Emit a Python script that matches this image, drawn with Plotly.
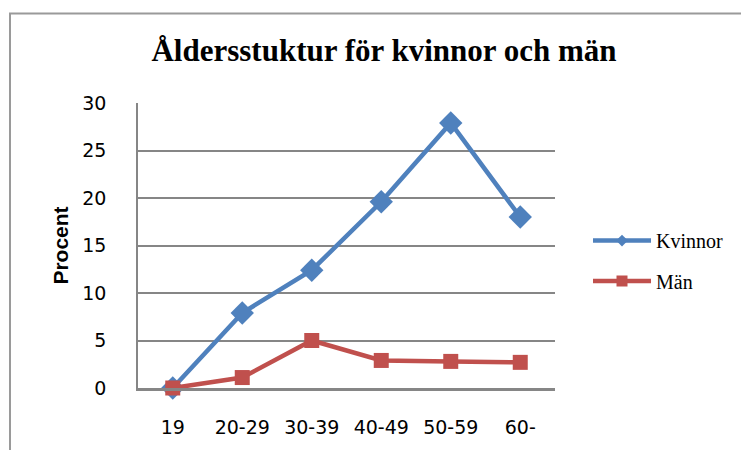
import plotly.graph_objects as go

categories = ["19", "20-29", "30-39", "40-49", "50-59", "60-"]
kvinnor = [0, 7.9, 12.4, 19.6, 27.9, 18.0]
man = [0, 1.1, 5.0, 2.9, 2.8, 2.7]

BLUE, RED = "#4F81BD", "#C0504D"

fig = go.Figure()
fig.add_trace(go.Scatter(
    x=categories, y=kvinnor, name="Kvinnor", mode="lines+markers",
    line=dict(color=BLUE, width=4.5),
    marker=dict(symbol="diamond", size=18, color=BLUE),
    showlegend=False, cliponaxis=False))
fig.add_trace(go.Scatter(
    x=categories, y=man, name="Män", mode="lines+markers",
    line=dict(color=RED, width=4.5),
    marker=dict(symbol="square", size=15, color=RED),
    showlegend=False, cliponaxis=False))
# legend entries (smaller legend symbols, as in the original)
fig.add_trace(go.Scatter(
    x=[None], y=[None], name="Kvinnor", mode="lines+markers",
    line=dict(color=BLUE, width=4.5),
    marker=dict(symbol="diamond", size=9, color=BLUE),
    legend="legend", showlegend=True))
fig.add_trace(go.Scatter(
    x=[None], y=[None], name="Män", mode="lines+markers",
    line=dict(color=RED, width=4.5),
    marker=dict(symbol="square", size=11, color=RED),
    legend="legend2", showlegend=True))

# page body has an 8px margin; work in screen pixels and shift
OFF = 8
W, H = 749 - OFF, 450 - OFF
L, T = 138 - OFF, 103 - OFF
pw, ph = 417, 290
R, B = W - L - pw, H - T - ph

def px_x(x):
    return (x - OFF - L) / pw

def px_y(y):
    return (T + ph - (y - OFF)) / ph

legend_font = dict(family="Liberation Serif", size=20, color="#000000")

fig.update_layout(
    width=W, height=H,
    margin=dict(l=L, r=R, t=T, b=B),
    paper_bgcolor="white", plot_bgcolor="white",
    title=dict(text="<b>Åldersstuktur för kvinnor och män</b>",
               font=dict(family="Liberation Serif", size=31, color="#000000"),
               x=(384 - OFF) / W, xanchor="center", y=1 - (50 - OFF) / H, yanchor="middle"),
    xaxis=dict(type="category", showgrid=False, showline=True,
               linecolor="#868686", linewidth=3,
               ticks="outside", ticklen=20, tickcolor="rgba(0,0,0,0)",
               tickfont=dict(family="DejaVu Sans", size=19, color="#000000"),
               range=[-0.5, 5.5], fixedrange=True),
    yaxis=dict(range=[0, 30], dtick=5, showgrid=True, gridcolor="#868686",
               gridwidth=1.5, showline=True, linecolor="#868686", linewidth=1.5,
               zeroline=False,
               ticks="outside", ticklen=26, tickcolor="rgba(0,0,0,0)",
               tickfont=dict(family="DejaVu Sans", size=19, color="#000000"),
               title=dict(text="<b>Procent</b>",
                          font=dict(family="Liberation Sans", size=21, color="#000000"),
                          standoff=8)),
    legend=dict(x=px_x(588), y=px_y(243), xanchor="left", yanchor="middle",
                font=legend_font, bgcolor="rgba(0,0,0,0)", itemwidth=58),
    legend2=dict(x=px_x(588), y=px_y(284), xanchor="left", yanchor="middle",
                 font=legend_font, bgcolor="rgba(0,0,0,0)", itemwidth=58),
    shapes=[dict(type="rect", xref="paper", yref="paper",
                 x0=px_x(10), x1=px_x(780), y0=px_y(480), y1=px_y(12),
                 line=dict(color="#9a9a9a", width=2), fillcolor="rgba(0,0,0,0)",
                 layer="below")],
)

fig.write_html("out.html")
